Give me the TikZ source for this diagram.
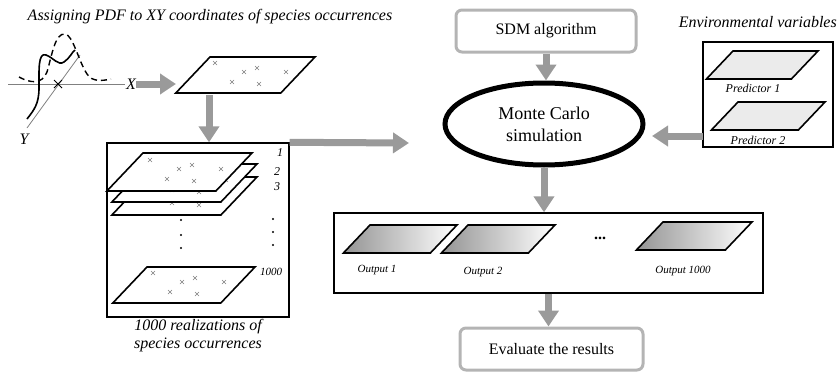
\documentclass[tikz,border=0pt]{standalone}
\usepackage{fontspec}
\setmainfont{Liberation Serif}
\usetikzlibrary{arrows.meta,shapes.geometric,calc}

\definecolor{arrowgray}{HTML}{9A9A9A}
\definecolor{boxgray}{HTML}{B4B4B4}

% one flat map, given by its top left corner, width and height
\newcommand\sheet[5][]{\draw[sheet,#1] (#2,#3) -- ++(#4,0) -- ++({-0.95*#5},#5) -- ++(-#4,0) -- cycle;}
% the six occurrence points on a map
\newcommand\occur[2]{\foreach \dx/\dy in {5/6,34/15,47/11,76/15,22/25,49/27}
  {\draw[occ] ({#1+\dx-2},{#2+\dy-2}) -- ++(4,4) ({#1+\dx-2},{#2+\dy+2}) -- ++(4,-4);}}

\begin{document}
\begin{tikzpicture}[x=1pt,y=-1pt,
    flow/.style = {draw=arrowgray, line width=7pt, -{Triangle[width=20pt,length=16pt]}},
    sheet/.style = {draw, line width=1.6pt, line join=miter, fill=white},
    occ/.style = {draw=gray, line width=0.5pt},
    axis/.style = {draw=gray, line width=0.8pt},
    blackbox/.style = {draw, line width=1.4pt, inner sep=0pt},
    graybox/.style = {draw=boxgray, line width=3pt, rounded corners=6pt,
                      minimum width=180pt, minimum height=42pt, font=\fontsize{16}{18}\selectfont},
    captxt/.style = {font=\fontsize{16}{18}\selectfont\itshape, inner sep=0pt},
    tag/.style = {font=\fontsize{12}{14}\selectfont\itshape, inner sep=0pt},
    small/.style = {font=\fontsize{11}{13}\selectfont\itshape, inner sep=0pt},
    outfill/.style = {left color=black!42, right color=white},
    envfill/.style = {fill=black!8},
  ]
  \useasboundingbox (0,0) rectangle (839,372);

  % pdf on the xy coordinates
  \node[captxt] (title) at (210,17) {Assigning PDF to XY coordinates of species occurrences};
  \draw[axis] (8,84) -- (125,84);
  \draw[axis] (27,128) -- (80,55);
  \draw[line width=0.8pt] (54,80) -- (62,88) (54,88) -- (62,80);
  \node[captxt] (xl) at (131,84) {X};
  \node[captxt] (yl) at (24,139) {Y};
  \draw[line width=1.6pt] (27,119) .. controls (34,110) and (39,104) .. (39,88)
    .. controls (39,70) and (38,52) .. (46,55) .. controls (54,58) and (58,66) .. (64,62)
    .. controls (70,58) and (72,52) .. (75,50);
  \draw[line width=1.4pt, dash pattern=on 6pt off 4pt] (19,77) .. controls (30,83) and (42,85) .. (47,72)
    .. controls (52,55) and (55,33) .. (65,34) .. controls (73,35) and (78,60) .. (87,74)
    .. controls (92,82) and (102,81) .. (111,79);

  \sheet{210}{57}{105}{36}
  \occur{210}{57}
  \coordinate (mapin) at (176,84);
  \coordinate (mapout) at (209,95);

  % the realizations
  \node[blackbox, minimum width=182pt, minimum height=174pt] (stack) at (198,230) {};
  \sheet{148}{177}{109}{38}
  \occur{150}{178}
  \sheet{148}{164}{109}{38}
  \occur{150}{165}
  \sheet{143}{153}{109}{38}
  \occur{145}{154}
  \sheet{147}{267}{108}{36}
  \occur{148}{267}
  \node[tag] (n1) at (280,153) {1};
  \node[tag] (n2) at (277,172) {2};
  \node[tag] (n3) at (277,187) {3};
  \node[small] (n1000) at (271,272) {1000};
  \foreach \y in {220,235,248} \fill (181,\y) circle (1.1pt);
  \foreach \y in {219,232,245} \fill (273,\y) circle (1.1pt);
  \node[captxt, align=center] (real) at (198,336) {1000 realizations of\\species occurrences};

  % model
  \node[graybox] (sdm) at (546,31) {SDM algorithm};
  \node[ellipse, draw, line width=5pt, minimum width=198pt, minimum height=82pt, align=center,
        font=\fontsize{18}{22}\selectfont] (mc) at (544,124) {Monte Carlo\\simulation};
  \coordinate (mcin) at (409,143);
  \coordinate (mcright) at (652,136);

  % predictors
  \node[captxt, anchor=east] (envt) at (837,22) {Environmental variables};
  \node[blackbox, minimum width=130pt, minimum height=105pt] (env) at (768,94.5) {};
  \sheet[envfill]{733}{51}{85}{28}
  \sheet[envfill]{738}{102}{87}{28}
  \node[tag] (p1) at (753,88) {Predictor 1};
  \node[tag] (p2) at (758,140) {Predictor 2};
  \coordinate (envout) at (703,136);

  % outputs
  \node[blackbox, minimum width=429pt, minimum height=80pt] (out) at (548.5,253) {};
  \sheet[outfill]{370}{225}{87}{28}
  \sheet[outfill]{468}{225}{87}{28}
  \sheet[outfill]{663}{222}{89}{28}
  \node[small] (o1) at (377,270) {Output 1};
  \node[small] (o2) at (483,272) {Output 2};
  \node[small] (o1000) at (683,271) {Output 1000};
  \node[font=\fontsize{16}{18}\selectfont\bfseries] (more) at (600,238) {...};
  \node[graybox, minimum width=183pt] (eval) at (551.5,349) {Evaluate the results};

  % arrows
  \draw[flow] (xl.east) -- (mapin);
  \draw[flow] (mapout) -- (mapout |- stack.north);
  \draw[flow] (stack.north east) -- (mcin);
  \draw[flow] (sdm.south) -- (sdm.south |- mc.north);
  \draw[flow] (envout) -- (mcright);
  \draw[flow] (mc.south) -- (mc.south |- out.north);
  \draw[flow] (out.south) -- (out.south |- eval.north);
\end{tikzpicture}
\end{document}
